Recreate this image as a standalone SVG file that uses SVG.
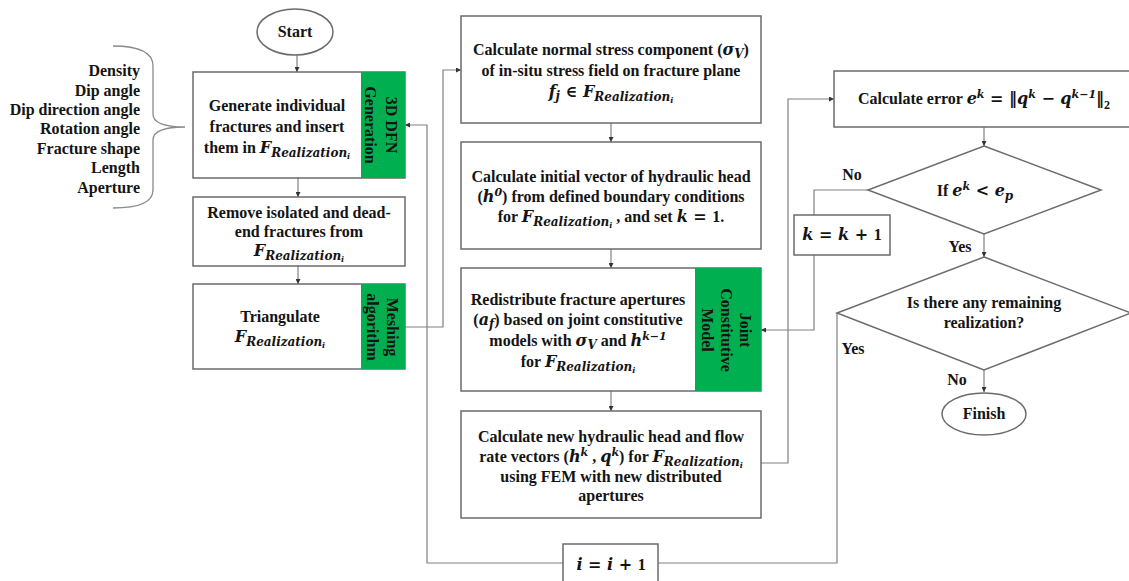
<svg xmlns="http://www.w3.org/2000/svg" width="1129" height="581" viewBox="0 0 1129 581">
<style>
.box{fill:#fff;stroke:#6b6b6b;stroke-width:1.5}
.grn{fill:#00b050;stroke:none}
.conn{fill:none;stroke:#808080;stroke-width:1.2}
.t{font-family:"Liberation Serif","DejaVu Serif",serif;font-weight:bold;font-size:16px;fill:#141414;text-anchor:middle}
.p{font-family:"Liberation Serif","DejaVu Serif",serif;font-weight:bold;font-size:16px;fill:#141414;text-anchor:end}
.m{font-family:"DejaVu Serif",serif;font-style:italic;font-weight:bold}
.sy{font-family:"DejaVu Serif",serif;font-weight:bold}
.sub{font-size:12px}
.ss{font-size:8px}
.sup{font-size:11px}
</style>
<defs>
<marker id="ah" viewBox="0 0 6 6" refX="6" refY="3" markerWidth="5" markerHeight="5" orient="auto" markerUnits="userSpaceOnUse">
<path d="M0,0 L6,3 L0,6 z" fill="#333"/>
</marker>
</defs>

<g id="connectors">
<path class="conn" d="M297,55 L297,72" marker-end="url(#ah)"/>
<path class="conn" d="M298,178 L298,197" marker-end="url(#ah)"/>
<path class="conn" d="M298,266 L298,284" marker-end="url(#ah)"/>
<path class="conn" d="M405,327 L443,327 L443,70 L461,70" marker-end="url(#ah)"/>
<path class="conn" d="M611,123 L611,142" marker-end="url(#ah)"/>
<path class="conn" d="M611,249 L611,268" marker-end="url(#ah)"/>
<path class="conn" d="M611,391 L611,411" marker-end="url(#ah)"/>
<path class="conn" d="M761,463 L788,463 L788,99 L834,99" marker-end="url(#ah)"/>
<path class="conn" d="M984,127 L984,146" marker-end="url(#ah)"/>
<path class="conn" d="M868,190 L814,190 L814,215"/>
<path class="conn" d="M814,255 L814,330 L761,330" marker-end="url(#ah)"/>
<path class="conn" d="M984,234 L984,257" marker-end="url(#ah)"/>
<path class="conn" d="M984,370 L984,392" marker-end="url(#ah)"/>
<path class="conn" d="M837,313 L837,563 L658,563"/>
<path class="conn" d="M563,563 L427,563 L427,125 L405,125" marker-end="url(#ah)"/>
</g>

<g id="params">
<path d="M113,46 Q153,46 153,66 L153,114 Q153,127 185,127 Q153,127 153,140 L153,190 Q153,208 113,208" fill="none" stroke="#8a8a8a" stroke-width="1.3"/>
<text class="p" x="140" y="76">Density</text>
<text class="p" x="140" y="96">Dip angle</text>
<text class="p" x="140" y="115">Dip direction angle</text>
<text class="p" x="140" y="134">Rotation angle</text>
<text class="p" x="140" y="154">Fracture shape</text>
<text class="p" x="140" y="173">Length</text>
<text class="p" x="140" y="193">Aperture</text>
</g>

<g id="start">
<ellipse cx="295" cy="32" rx="38" ry="23" class="box"/>
<text class="t" x="295" y="37">Start</text>
</g>

<g id="generate">
<rect x="193" y="72" width="212" height="106" class="box"/>
<rect x="361" y="72" width="44" height="106" class="grn"/>
<text class="t" x="277" y="111">Generate individual</text>
<text class="t" x="277" y="132">fractures and insert</text>
<text class="t" x="277" y="153">them in <tspan class="m">F</tspan><tspan class="m sub" dy="4">Realization</tspan><tspan class="m ss" dy="2">i</tspan></text>
<g transform="translate(383,125) rotate(90)">
<text class="t" x="0" y="-2.5">3D DFN</text>
<text class="t" x="0" y="18.5">Generation</text>
</g>
</g>

<g id="remove">
<rect x="193" y="197" width="212" height="69" class="box"/>
<text class="t" x="299" y="218">Remove isolated and dead-</text>
<text class="t" x="299" y="237">end fractures from</text>
<text class="t" x="299" y="256"><tspan class="m">F</tspan><tspan class="m sub" dy="4">Realization</tspan><tspan class="m ss" dy="2">i</tspan></text>
</g>

<g id="triangulate">
<rect x="193" y="284" width="212" height="85" class="box"/>
<rect x="361" y="284" width="44" height="85" class="grn"/>
<text class="t" x="280" y="322">Triangulate</text>
<text class="t" x="280" y="342"><tspan class="m">F</tspan><tspan class="m sub" dy="4">Realization</tspan><tspan class="m ss" dy="2">i</tspan></text>
<g transform="translate(383,327) rotate(90)">
<text class="t" x="0" y="-3.5">Meshing</text>
<text class="t" x="0" y="16.5">algorithm</text>
</g>
</g>

<g id="stress">
<rect x="461" y="16" width="300" height="107" class="box"/>
<text class="t" x="611" y="55">Calculate normal stress component (<tspan class="m">σ</tspan><tspan class="m sub" dy="3">V</tspan><tspan dy="-3">)</tspan></text>
<text class="t" x="611" y="76">of in-situ stress field on fracture plane</text>
<text class="t" x="611" y="97"><tspan class="m">f</tspan><tspan class="m sub" dy="3">j</tspan><tspan class="sy" dy="-3"> ∈ </tspan><tspan class="m">F</tspan><tspan class="m sub" dy="4">Realization</tspan><tspan class="m ss" dy="2">i</tspan></text>
</g>

<g id="initial">
<rect x="461" y="142" width="300" height="107" class="box"/>
<text class="t" x="611" y="182">Calculate initial vector of hydraulic head</text>
<text class="t" x="611" y="202">(<tspan class="m">h</tspan><tspan class="m sup" dy="-6">0</tspan><tspan dy="6">) from defined boundary conditions</tspan></text>
<text class="t" x="611" y="222">for <tspan class="m">F</tspan><tspan class="m sub" dy="4">Realization</tspan><tspan class="m ss" dy="2">i</tspan><tspan dy="-6"> , and set </tspan><tspan class="m">k</tspan><tspan class="sy"> = </tspan>1.</text>
</g>

<g id="redistribute">
<rect x="461" y="268" width="300" height="123" class="box"/>
<rect x="695" y="268" width="66" height="123" class="grn"/>
<text class="t" x="578" y="305">Redistribute fracture apertures</text>
<text class="t" x="578" y="325">(<tspan class="m">a</tspan><tspan class="m sub" dy="3">f</tspan><tspan dy="-3">) based on joint constitutive</tspan></text>
<text class="t" x="578" y="346">models with <tspan class="m">σ</tspan><tspan class="m sub" dy="3">V</tspan><tspan dy="-3"> and </tspan><tspan class="m">h</tspan><tspan class="m sup" dy="-6">k−1</tspan></text>
<text class="t" x="578" y="367">for <tspan class="m">F</tspan><tspan class="m sub" dy="4">Realization</tspan><tspan class="m ss" dy="2">i</tspan></text>
<g transform="translate(728,330) rotate(90)">
<text class="t" x="0" y="-11.5">Joint</text>
<text class="t" x="0" y="7.5">Constitutive</text>
<text class="t" x="0" y="26.5">Model</text>
</g>
</g>

<g id="fem">
<rect x="461" y="411" width="300" height="107" class="box"/>
<text class="t" x="611" y="442">Calculate new hydraulic head and flow</text>
<text class="t" x="611" y="462">rate vectors (<tspan class="m">h</tspan><tspan class="m sup" dy="-6">k</tspan><tspan dy="6"> , </tspan><tspan class="m">q</tspan><tspan class="m sup" dy="-6">k</tspan><tspan dy="6">) for  </tspan><tspan class="m">F</tspan><tspan class="m sub" dy="4">Realization</tspan><tspan class="m ss" dy="2">i</tspan></text>
<text class="t" x="611" y="482">using FEM with new distributed</text>
<text class="t" x="611" y="501">apertures</text>
</g>

<g id="iinc">
<rect x="563" y="544" width="95" height="50" class="box"/>
<text class="t" x="611" y="570"><tspan class="m">i</tspan><tspan class="sy"> = </tspan><tspan class="m">i</tspan><tspan class="sy"> + </tspan>1</text>
</g>

<g id="error">
<rect x="834" y="71" width="300" height="56" class="box"/>
<text class="t" x="984" y="104">Calculate error  <tspan class="m">e</tspan><tspan class="m sup" dy="-6">k</tspan><tspan class="sy" dy="6"> = ‖</tspan><tspan class="m">q</tspan><tspan class="m sup" dy="-6">k</tspan><tspan class="sy" dy="6"> − </tspan><tspan class="m">q</tspan><tspan class="m sup" dy="-6">k−1</tspan><tspan class="sy" dy="6">‖</tspan><tspan class="sub" dy="5">2</tspan></text>
</g>

<g id="check">
<polygon points="984,146 1101,190 984,234 868,190" class="box"/>
<text class="t" x="975" y="196">If <tspan class="m">e</tspan><tspan class="m sup" dy="-6">k</tspan><tspan class="sy" dy="6"> &lt; </tspan><tspan class="m">e</tspan><tspan class="m sub" dy="4">p</tspan></text>
</g>

<g id="kinc">
<rect x="794" y="215" width="96" height="40" class="box"/>
<text class="t" x="842" y="240"><tspan class="m">k</tspan><tspan class="sy"> = </tspan><tspan class="m">k</tspan><tspan class="sy"> + </tspan>1</text>
</g>

<g id="remaining">
<polygon points="984,257 1131,313 984,370 837,313" class="box"/>
<text class="t" x="984" y="308">Is there any remaining</text>
<text class="t" x="984" y="328">realization?</text>
</g>

<g id="finish">
<ellipse cx="984" cy="414" rx="42" ry="21" class="box"/>
<text class="t" x="984" y="419">Finish</text>
</g>

<g id="labels">
<text class="t" x="852" y="180">No</text>
<text class="t" x="960" y="252">Yes</text>
<text class="t" x="853" y="354">Yes</text>
<text class="t" x="957" y="385">No</text>
</g>
</svg>
